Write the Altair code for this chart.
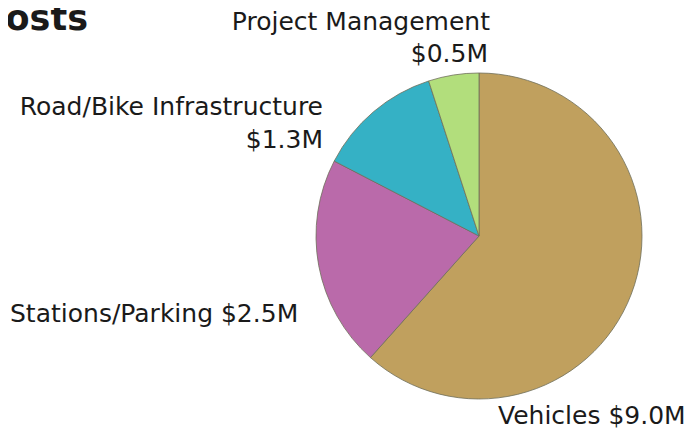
import altair as alt
import pandas as pd

categories = ["Vehicles", "Stations/Parking", "Road/Bike Infrastructure", "Project Management"]
# slice shares as drawn in the picture (percent of the circle)
shares = [61.6, 21.0, 12.4, 5.0]
labels = ["$9.0M", "$2.5M", "$1.3M", "$0.5M"]
colors = ["#C0A05E", "#BA6AAA", "#35B1C5", "#B2DE7C"]

df = pd.DataFrame({"category": categories, "share": shares, "label": labels,
                   "order": list(range(len(categories)))})

FONT = "DejaVu Sans"

pie = alt.Chart(df).mark_arc(stroke="#6f6f5a", strokeWidth=0.8, radius=163).encode(
    theta=alt.Theta("share:Q", stack=True),
    order=alt.Order("order:Q"),
    color=alt.Color("category:N", scale=alt.Scale(domain=categories, range=colors), legend=None),
    x=alt.value(471), y=alt.value(228),
)

def txt(text, x, y, align, size=25, weight="normal"):
    return alt.Chart(pd.DataFrame({"t": [text]})).mark_text(
        align=align, baseline="alphabetic", font=FONT, fontSize=size,
        fontWeight=weight, color="#1a1a1a"
    ).encode(text="t:N", x=alt.value(x), y=alt.value(y))

title = txt("Costs", 80, 22, "right", size=35, weight="bold")
t1a = txt("Project Management", 482, 22, "right")
t1b = txt(labels[3], 480, 54, "right")
t2a = txt("Road/Bike Infrastructure", 315, 107, "right")
t2b = txt(labels[2], 315, 140, "right")
t3 = txt("Stations/Parking " + labels[1], 2, 314, "left")
t4 = txt("Vehicles " + labels[0], 490, 416, "left")

chart = alt.layer(pie, title, t1a, t1b, t2a, t2b, t3, t4).properties(
    width=680, height=421, padding=0, autosize=alt.AutoSizeParams(type="none")
).configure_view(stroke=None)

chart.save("out.html", embed_options={"renderer": "svg", "actions": False})
